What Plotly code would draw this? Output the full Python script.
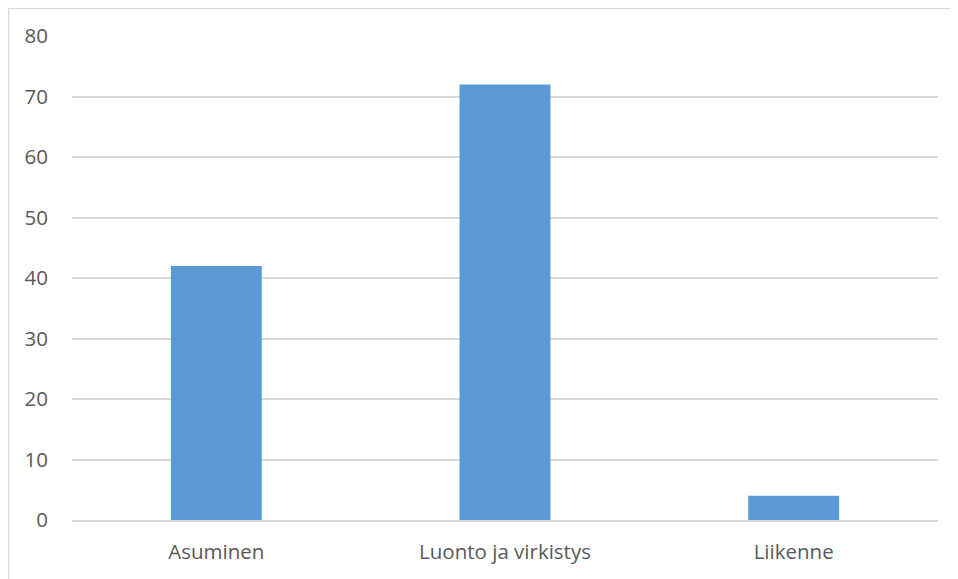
import plotly.graph_objects as go

categories = ["Asuminen", "Luonto ja virkistys", "Liikenne"]
values = [42, 72, 4]
y_ticks = [0, 10, 20, 30, 40, 50, 60, 70, 80]

# page has an 8px body margin, so the figure is drawn from (8, 8)
OFF = 8
W, H = 958 - OFF, 579 - OFF
L, R, T, B = 72 - OFF, 20, 36 - OFF, 59
pw = W - L - R
ph = H - T - B

fig = go.Figure(go.Bar(x=categories, y=values, marker_color="#5b9bd5",
                       marker_line_width=0))

fig.update_layout(
    width=W, height=H,
    margin=dict(l=L, r=R, t=T, b=B),
    plot_bgcolor="white", paper_bgcolor="white",
    bargap=0.685,
    showlegend=False,
    font=dict(family="Open Sans, sans-serif", size=20.5, color="#595959"),
    xaxis=dict(showgrid=False, showline=True, linecolor="#d9d9d9", linewidth=2,
               ticks="", ticklabelstandoff=12),
    yaxis=dict(range=[0, 80], tickvals=y_ticks, showgrid=True, gridcolor="#d9d9d9",
               gridwidth=1.5, zeroline=False, showline=False, ticks="",
               ticklabelstandoff=23),
    shapes=[dict(type="rect", xref="paper", yref="paper",
                 x0=(0.5 - L) / pw, x1=(W + 10 - L) / pw,
                 y0=-(B + 20) / ph, y1=(H - B - 0.5) / ph,
                 line=dict(color="#d9d9d9", width=1.5), fillcolor="rgba(0,0,0,0)",
                 layer="below")],
)

fig.write_html("out.html")
